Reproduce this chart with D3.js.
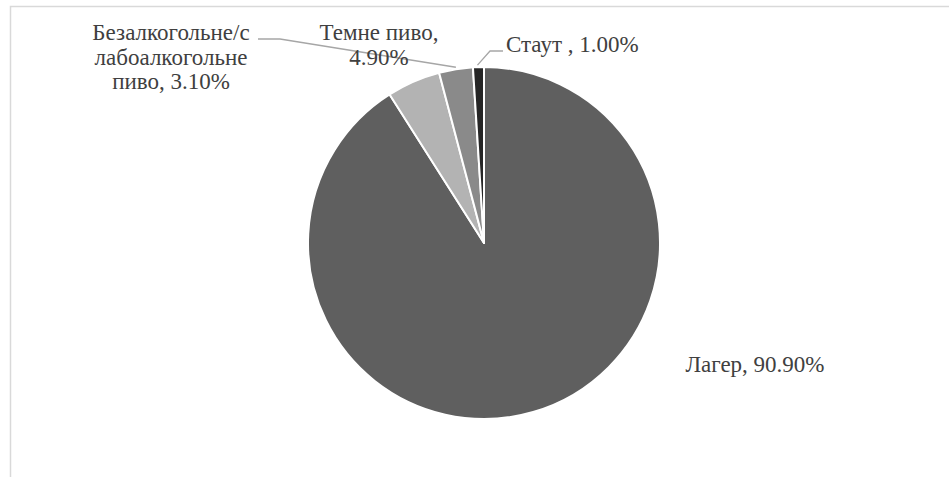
<!DOCTYPE html>
<html>
<head>
<meta charset="utf-8">
<script src="https://cdn.jsdelivr.net/npm/d3@7"></script>
<style>
  body { margin: 0; background: #fff; }
  text { font-family: "Liberation Serif", "Times New Roman", serif; font-size: 23px; fill: #404040; }
</style>
</head>
<body>
<svg id="chart" width="949" height="477"></svg>
<script>
// data
var categories = ["Лагер", "Темне пиво", "Безалкогольне/слабоалкогольне пиво", "Стаут "];
var values = [90.9, 4.9, 3.1, 1.0];
var colors = ["#5f5f5f", "#b3b3b3", "#8a8a8a", "#262626"];
var labelLines = [
    ["Лагер, 90.90%"],
    ["Темне пиво,", "4.90%"],
    ["Безалкогольне/с", "лабоалкогольне", "пиво, 3.10%"],
    ["Стаут , 1.00%"]
];

var width = 949, height = 477;
var cx = 484, cy = 243, radius = 176;

var svg = d3.select("#chart");

// chart area border (runs off the page on the right and bottom)
svg.append("rect")
    .attr("x", 10.5).attr("y", 6.5)
    .attr("width", 1000).attr("height", 600)
    .attr("fill", "none")
    .attr("stroke", "#d9d9d9")
    .attr("stroke-width", 1.5);

var data = categories.map(function (c, i) { return { name: c, value: values[i], color: colors[i], lines: labelLines[i] }; });

var pie = d3.pie().sort(null).value(function (d) { return d.value; });
var arc = d3.arc().innerRadius(0).outerRadius(radius);
var arcs = pie(data);

var g = svg.append("g").attr("transform", "translate(" + cx + "," + cy + ")");

g.selectAll("path.slice")
    .data(arcs)
    .enter().append("path")
    .attr("class", "slice")
    .attr("d", arc)
    .attr("fill", function (d) { return d.data.color; })
    .attr("stroke", "#fff")
    .attr("stroke-width", 2)
    .attr("stroke-linejoin", "round");

// label placement (offsets relative to pie centre, Excel "best fit" look)
var labelPos = [
    { x: 271, y: 129, anchor: "middle" },
    { x: -105, y: -203, anchor: "middle" },
    { x: -313, y: -203, anchor: "middle" },
    { x: 22, y: -191, anchor: "start" }
];
var lineHeight = 24.5;

// leader lines: from the arc edge out to the label
var edge = function (d) {
    var a = (d.startAngle + d.endAngle) / 2;
    return [Math.sin(a) * radius, -Math.cos(a) * radius];
};
var leaders = [
    { i: 2, pts: function (d) { var e = edge(d); return [[e[0], e[1] - 2], [-204, -204], [-226, -204]]; } },
    { i: 3, pts: function (d) { var e = edge(d); return [[e[0] - 1, e[1] - 2], [6, -192], [19, -192]]; } }
];
leaders.forEach(function (l) {
    g.append("path")
        .attr("d", d3.line()(l.pts(arcs[l.i])))
        .attr("fill", "none")
        .attr("stroke", "#a6a6a6")
        .attr("stroke-width", 1.3);
});

arcs.forEach(function (d, i) {
    var p = labelPos[i];
    var t = g.append("text")
        .attr("x", p.x).attr("y", p.y)
        .attr("text-anchor", p.anchor);
    d.data.lines.forEach(function (line, k) {
        t.append("tspan")
            .attr("x", p.x)
            .attr("dy", k === 0 ? 0 : lineHeight)
            .text(line);
    });
});
</script>
</body>
</html>
